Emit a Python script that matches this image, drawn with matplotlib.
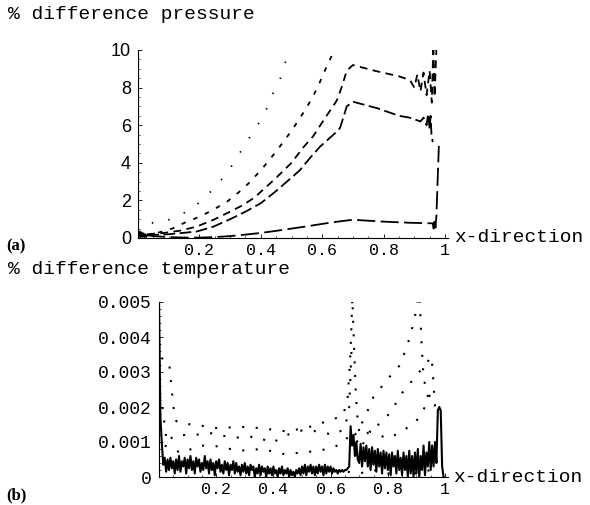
import numpy as np
import matplotlib.pyplot as plt
from matplotlib.ticker import MultipleLocator

MONO = 'Liberation Mono'
SANS = 'Liberation Sans'

# ---------------- (a) % difference pressure ----------------
p_dot_x = [0.045, 0.093, 0.137, 0.18, 0.22, 0.256, 0.3, 0.35, 0.397, 0.42,
           0.44, 0.462, 0.479, 0.495, 0.51]
p_dot_y = [0.8, 0.92, 1.22, 1.6, 2.2, 2.77, 3.7, 5.0, 6.2, 6.9,
           7.7, 8.4, 9.3, 10.0, 10.6]

p_short_x = [0.065, 0.115, 0.15, 0.2, 0.245, 0.29, 0.326, 0.36, 0.4, 0.45,
             0.5, 0.54, 0.566, 0.59, 0.614, 0.64, 0.65]
p_short_y = [0.28, 0.52, 0.8, 1.13, 1.5, 1.93, 2.4, 2.9, 3.6, 4.6,
             5.7, 6.7, 7.4, 8.2, 9.1, 10.0, 10.4]

p_med_x = [0.03, 0.08, 0.137, 0.19, 0.245, 0.3, 0.343, 0.38, 0.45, 0.5,
           0.54, 0.57, 0.61, 0.635, 0.647, 0.663, 0.68, 0.7, 0.77, 0.85,
           0.886, 0.9, 0.91, 0.92, 0.93, 0.94, 0.95, 0.957, 0.962, 0.966,
           0.973]
p_med_y = [0.2, 0.26, 0.39, 0.6, 0.96, 1.4, 1.76, 2.16, 3.2, 4.0,
           4.85, 5.4, 6.4, 7.0, 7.3, 8.0, 8.9, 9.2, 8.9, 8.6,
           8.4, 8.0, 8.7, 7.8, 8.8, 7.6, 8.9, 7.2, 10.3, 7.5,
           10.5]

p_long_x = [0.03, 0.1, 0.19, 0.245, 0.3, 0.35, 0.4, 0.45, 0.527, 0.56,
            0.593, 0.647, 0.658, 0.68, 0.7, 0.78, 0.85, 0.885, 0.92, 0.93,
            0.94, 0.945, 0.95, 0.953, 0.956, 0.96]
p_long_y = [0.15, 0.2, 0.34, 0.6, 1.0, 1.4, 1.85, 2.5, 3.6, 4.25,
            4.86, 5.65, 5.85, 7.0, 7.25, 6.9, 6.5, 6.4, 6.2, 6.4,
            6.0, 6.6, 5.8, 6.5, 5.5, 5.1]

p_low_x = [0.03, 0.05, 0.1, 0.15, 0.2, 0.25, 0.3, 0.35, 0.4, 0.45, 0.5,
           0.55, 0.6, 0.65, 0.7, 0.8, 0.886, 0.96, 0.963, 0.966, 0.969,
           0.972, 0.98]
p_low_y = [0.15, 0.1, 0.05, 0.02, 0.02, 0.05, 0.1, 0.18, 0.27, 0.38, 0.5,
           0.62, 0.75, 0.87, 0.97, 0.87, 0.81, 0.78, 0.5, 1.0, 0.55,
           1.2, 4.9]

p_blob_x = [0.0, 0.003, 0.006, 0.009, 0.012, 0.015, 0.018, 0.021, 0.024, 0.027, 0.03]
p_blob_y = [0.4, 0.05, 0.35, 0.05, 0.3, 0.05, 0.25, 0.05, 0.2, 0.05, 0.15]

# ---------------- (b) % difference temperature (units of 1e-3) ----------------
t_solid_y = [
    5.0, 1.7, 0.95, 0.35, 0.55, 0.15, 0.5, 0.2, 0.55, 0.25,
    0.45, 0.1, 0.5, 0.2, 0.6, 0.15, 0.45, 0.3, 0.55, 0.1,
    0.5, 0.25, 0.6, 0.2, 0.45, 0.1, 0.55, 0.3, 0.5, 0.15,
    0.4, 0.2, 0.6, 0.25, 0.45, 0.1, 0.5, 0.2, 0.4, 0.05,
    0.45, 0.25, 0.5, 0.15, 0.35, 0.1, 0.45, 0.2, 0.4, 0.05,
    0.35, 0.2, 0.45, 0.1, 0.4, 0.15, 0.3, 0.05, 0.35, 0.15,
    0.4, 0.1, 0.3, 0.05, 0.35, 0.2, 0.3, 0.0, 0.25, 0.1,
    0.35, 0.05, 0.3, 0.15, 0.25, 0.0, 0.3, 0.1, 0.25, 0.05,
    0.3, 0.1, 0.2, 0.0, 0.25, 0.1, 0.3, 0.05, 0.2, 0.1,
    0.25, 0.0, 0.2, 0.05, 0.15, 0.0, 0.2, 0.1, 0.25, 0.05,
    0.3, 0.1, 0.35, 0.05, 0.3, 0.15, 0.35, 0.1, 0.3, 0.05,
    0.3, 0.1, 0.35, 0.15, 0.3, 0.05, 0.35, 0.1, 0.3, 0.15,
    0.3, 0.1, 0.25, 0.15, 0.2, 0.1, 0.2, 0.15, 0.2, 0.15,
    0.2, 0.2, 0.25, 0.3, 1.45, 0.9, 1.2, 0.6, 1.0, 0.5,
    0.4, 0.95, 0.3, 0.85, 0.45, 0.9, 0.3, 0.8, 0.2, 0.85,
    0.35, 0.75, 0.15, 0.8, 0.3, 0.7, 0.1, 0.75, 0.25, 0.7,
    0.2, 0.65, 0.05, 0.7, 0.3, 0.6, 0.1, 0.75, 0.2, 0.55,
    0.05, 0.7, 0.2, 0.6, 0.0, 0.75, 0.1, 0.6, 0.0, 0.7,
    0.1, 0.8, 0.0, 0.6, 0.2, 0.9, 0.05, 0.7, 0.3, 1.0,
    0.2, 0.9, 0.3, 1.0, 0.4, 1.9, 2.0, 1.9, 0.3, 0.0,
]
t_solid_x = np.arange(len(t_solid_y)) * 0.005

t_dot1_x = [0.008, 0.035, 0.045, 0.052, 0.06, 0.08, 0.12, 0.2, 0.29, 0.35,
            0.45, 0.53, 0.59, 0.644, 0.66, 0.668, 0.672, 0.676, 0.68, 0.684,
            0.688, 0.694, 0.7]
t_dot1_y = [3.4, 3.3, 2.45, 1.9, 1.6, 1.52, 1.5, 1.4, 1.43, 1.4,
            1.3, 1.44, 1.6, 1.75, 2.3, 3.3, 4.1, 5.1, 4.2, 3.3,
            2.4, 1.7, 1.3]
t_dot2_x = [0.012, 0.027, 0.056, 0.12, 0.184, 0.24, 0.29, 0.34, 0.394, 0.446,
            0.504, 0.56, 0.61, 0.65, 0.665, 0.674]
t_dot2_y = [2.0, 1.0, 1.2, 1.2, 1.25, 1.15, 1.12, 1.16, 0.97, 1.2,
            1.34, 1.3, 1.2, 1.38, 2.0, 3.8]
t_dot3_x = [0.02, 0.08, 0.14, 0.2, 0.28, 0.36, 0.44, 0.5, 0.56, 0.61, 0.65, 0.67]
t_dot3_y = [0.9, 0.68, 0.9, 0.88, 0.75, 0.8, 0.65, 0.7, 0.75, 0.85, 1.0, 1.3]
t_dot4_x = [0.685, 0.7, 0.72, 0.748, 0.78, 0.81, 0.843, 0.87, 0.89, 0.9,
            0.905, 0.91, 0.914, 0.918, 0.924, 0.932, 0.945, 0.96]
t_dot4_y = [1.2, 1.4, 1.7, 2.26, 2.6, 2.9, 3.2, 3.8, 4.4, 4.8,
            5.1, 5.2, 4.6, 3.8, 3.0, 2.5, 2.2, 2.0]
t_dot5_x = [0.69, 0.72, 0.76, 0.808, 0.85, 0.88, 0.91, 0.93, 0.953, 0.958,
            0.962, 0.966]
t_dot5_y = [1.0, 1.2, 1.44, 1.83, 2.4, 2.7, 3.0, 3.2, 3.44, 2.9,
            2.4, 1.9]
t_dot6_x = [0.69, 0.737, 0.8, 0.85, 0.9, 0.93, 0.95, 0.965]
t_dot6_y = [0.6, 1.3, 1.1, 1.3, 1.6, 2.0, 2.4, 2.6]
t_dot7_x = [0.66, 0.7, 0.75, 0.8, 0.85, 0.9, 0.95]
t_dot7_y = [0.15, 0.1, 0.2, 0.1, 0.15, 0.1, 0.2]

x_ticks = [0.2, 0.4, 0.6, 0.8, 1.0]
x_labels = ['0.2', '0.4', '0.6', '0.8', '1']
p_ticks = [0, 2, 4, 6, 8, 10]
p_labels = ['0', '2', '4', '6', '8', '10']
t_ticks = [0, 0.001, 0.002, 0.003, 0.004, 0.005]
t_labels = ['0', '0.001', '0.002', '0.003', '0.004', '0.005']


def style(ax, yticks, ylabels, yfont, yminor):
    ax.set_xlim(0, 1.01)
    ax.set_ylim(yticks[0], yticks[-1])
    for s in ('top', 'right'):
        ax.spines[s].set_visible(False)
    for s in ('left', 'bottom'):
        ax.spines[s].set_linewidth(0.8)
    ax.set_xticks(x_ticks)
    ax.set_xticklabels(x_labels, fontfamily=MONO, fontsize=12)
    ax.set_yticks(yticks)
    ax.set_yticklabels(ylabels, fontfamily=yfont, fontsize=13)
    ax.xaxis.set_minor_locator(MultipleLocator(0.05))
    ax.yaxis.set_minor_locator(MultipleLocator(yminor))
    ax.tick_params(which='major', direction='in', length=3, width=0.6)
    ax.tick_params(axis='x', pad=3.5)
    ax.tick_params(axis='y', pad=5)
    ax.tick_params(which='minor', direction='in', length=1.5, width=0.5)
    ax.annotate('x-direction', xy=(1, 0), xycoords='axes fraction',
                xytext=(4, 0), textcoords='offset points',
                ha='left', va='center', fontfamily=MONO, fontsize=14)


fig = plt.figure(figsize=(5.9, 5.05), dpi=100)
W, H = 590.0, 505.0

# x = 1 sits at 445 px in both panels
ax1 = fig.add_axes([138 / W, 1 - 238 / H, 1.01 * 307 / W, 188 / H])
k = dict(color='black', lw=1.3)
ax1.plot(p_dot_x, p_dot_y, ls=(0, (0.8, 8.5)), **k)
ax1.plot(p_short_x, p_short_y, ls=(0, (2.5, 4.5)), **k)
ax1.plot(p_med_x, p_med_y, ls=(0, (4.3, 3.0)), **k)
ax1.plot(p_long_x, p_long_y, ls=(0, (6.5, 2.5)), **k)
ax1.plot(p_low_x, p_low_y, ls=(0, (10, 3)), **k)
ax1.plot(p_blob_x, p_blob_y, ls='-', **k)
style(ax1, p_ticks, p_labels, SANS, 0.5)

ax2 = fig.add_axes([159 / W, 1 - 477 / H, 1.01 * 286 / W, 175 / H])
sc = 1e-3
for xs, ys in [(t_dot1_x, t_dot1_y), (t_dot2_x, t_dot2_y), (t_dot3_x, t_dot3_y),
               (t_dot4_x, t_dot4_y), (t_dot5_x, t_dot5_y), (t_dot6_x, t_dot6_y),
               (t_dot7_x, t_dot7_y)]:
    ax2.plot(xs, np.array(ys) * sc, ls=(0, (1.0, 5.5)), color='black', lw=1.5)
ax2.plot(t_solid_x, np.array(t_solid_y) * sc, color='black', lw=1.5)
style(ax2, t_ticks, t_labels, MONO, 0.0002)

fig.text(8 / W, 1 - 6 / H, '% difference pressure', ha='left', va='top',
         fontfamily=MONO, fontsize=14)
fig.text(8 / W, 1 - 261 / H, '% difference temperature', ha='left', va='top',
         fontfamily=MONO, fontsize=14)
fig.text(6 / W, 1 - 250 / H, '(a)', ha='left', va='baseline',
         fontfamily='Liberation Serif', fontweight='bold', fontsize=12)
fig.text(6 / W, 1 - 499 / H, '(b)', ha='left', va='baseline',
         fontfamily='Liberation Serif', fontweight='bold', fontsize=12)

fig.savefig('out.png', dpi=100, facecolor='white')
